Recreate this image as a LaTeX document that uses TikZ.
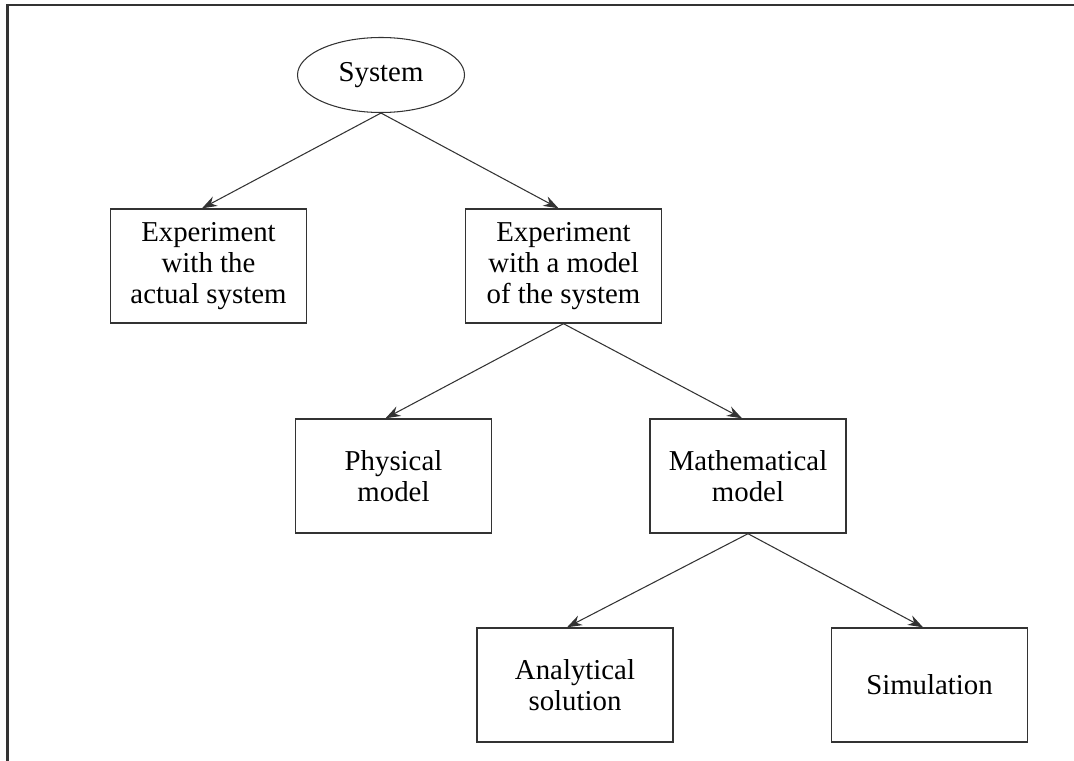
\documentclass[tikz,border=0pt]{standalone}
\usepackage{fontspec}
\setmainfont{Liberation Serif}
\usepackage{tikz}
\usetikzlibrary{arrows.meta,positioning,shapes.geometric}
\definecolor{framegray}{HTML}{333333}
\tikzset{sysnode/.style={ellipse,draw=framegray,line width=.6pt,minimum width=3.34cm,
 minimum height=1.5cm,inner sep=1pt,text=black,font=\fontsize{16.4}{17.6}\selectfont},
 choice/.style={rectangle,draw=framegray,line width=.8pt,minimum width=3.92cm,
 minimum height=2.28cm,inner sep=1pt,align=center,text=black,
 font=\fontsize{16.4}{17.6}\selectfont},
 branch/.style={draw=framegray,line width=.6pt,-{Stealth[length=3mm,width=2.1mm]}}}

\begin{document}
\begin{tikzpicture}[x=1cm,y=1cm]
 \useasboundingbox (0,0) rectangle (21.48,15.2);
 \draw[framegray,line width=1.5pt] (0.15,-1) -- (0.15,15.1) -- (23,15.1);
 % top level
 \node[sysnode] (sys) at (7.62,13.7) {System};
 \node[choice] (actual) at (4.17,9.88) {Experiment\\with the\\actual system};
 \node[choice] (model) at (11.27,9.88) {Experiment\\with a model\\of the system};
 % model kinds
 \node[choice] (phys) at (7.87,5.68) {Physical\\model};
 \node[choice] (math) at (14.96,5.68) {Mathematical\\model};
 % solution methods
 \node[choice] (anal) at (11.5,1.5) {Analytical\\solution};
 \node[choice] (sim) at (18.59,1.5) {Simulation};
 \draw[branch] (sys.south) -- ([xshift=-.13cm]actual.north);
 \draw[branch] (sys.south) -- ([xshift=-.1cm]model.north);
 \draw[branch] (model.south) -- ([xshift=-.16cm]phys.north);
 \draw[branch] (model.south) -- ([xshift=-.12cm]math.north);
 \draw[branch] (math.south) -- ([xshift=-.16cm]anal.north);
 \draw[branch] (math.south) -- ([xshift=-.13cm]sim.north);
\end{tikzpicture}
\end{document}
